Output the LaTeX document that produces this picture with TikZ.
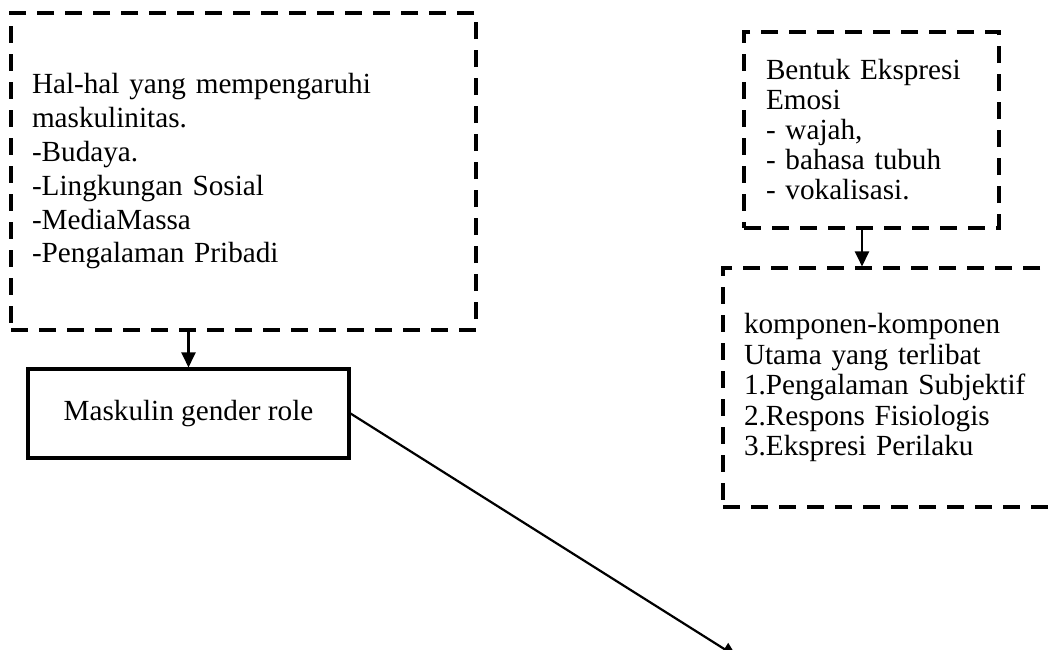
\documentclass[tikz,border=0pt]{standalone}
\usepackage{fontspec}
\setmainfont{Liberation Serif}
\usetikzlibrary{arrows.meta}
\begin{document}
\begin{tikzpicture}[x=1pt,y=-1pt,
  dbox/.style={draw, line width=3.1pt, dash pattern=on 17pt off 11pt, rectangle, align=left, anchor=center, inner ysep=0pt},
  sbox/.style={draw, line width=3.1pt, rectangle, align=center, inner sep=0pt},
  conn/.style={line width=2.2pt, -{Triangle[length=15pt,width=14pt]}},
  txt/.style={font=\fontsize{29.2}{33.8}\selectfont}
]
\useasboundingbox (0,0) rectangle (1048,649);
\node[dbox, txt, inner xsep=21pt, text width=423pt, minimum height=317pt] (box1) at (243.5,171.5)
  {Hal-hal yang mempengaruhi\\maskulinitas.\\-Budaya.\\-Lingkungan Sosial\\-MediaMassa\\-Pengalaman Pribadi};
\node[sbox, txt, minimum width=321pt, minimum height=89pt] (box2) at (188.5,413.5) {Maskulin gender role};
\node[dbox, inner xsep=22pt, text width=211pt, minimum height=196pt, font=\fontsize{29.2}{30}\selectfont] (box3) at (871.5,130)
  {Bentuk Ekspresi\\Emosi\\- wajah,\\- bahasa tubuh\\- vokalisasi.};
\node[dbox, inner xsep=21pt, text width=305pt, minimum height=239pt, font=\fontsize{29.2}{30.5}\selectfont] (box4) at (896.5,387.5)
  {komponen-komponen\\Utama yang terlibat\\1.Pengalaman Subjektif\\2.Respons Fisiologis\\3.Ekspresi Perilaku};
\coordinate (end) at (737,657);
\draw[conn] (box1.south -| box2.north) -- (box2.north);
\draw[conn] ([xshift=-9.5pt]box3.south) -- ([xshift=-9.5pt]box3.south |- box4.north);
\draw[conn] (box2.east) -- (end);
\end{tikzpicture}
\end{document}
